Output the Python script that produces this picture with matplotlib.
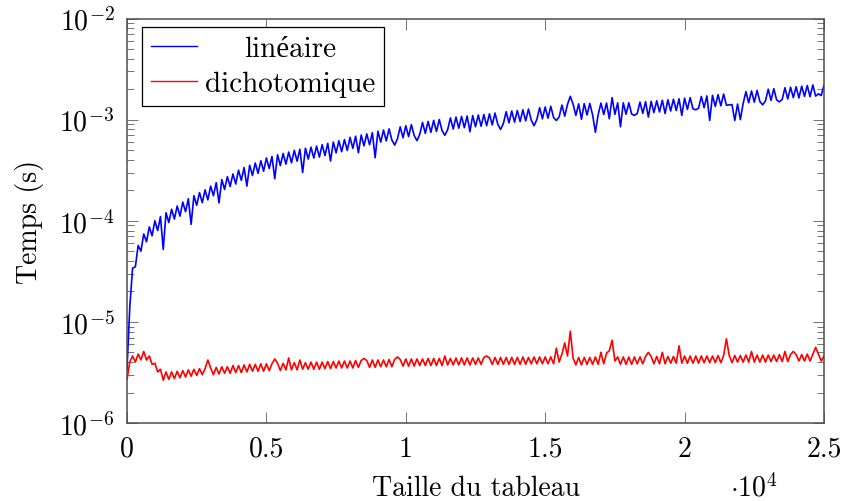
import numpy as np
import matplotlib
matplotlib.use("Agg")
from matplotlib import pyplot as plt
from matplotlib.ticker import FixedLocator, FuncFormatter, LogLocator, NullFormatter

plt.rcParams['font.family'] = ['cmr10', 'Liberation Serif']
plt.rcParams['mathtext.fontset'] = 'cm'
plt.rcParams['axes.formatter.use_mathtext'] = True

# taille du tableau (pas de 100)
sizes = np.arange(0, 25001, 100)

# temps en microsecondes
lineaire_us = [
    3.4, 14, 34, 35, 57, 50, 74, 62, 87, 71,
    100, 80, 110, 52, 120, 96, 130, 104, 140, 111,
    153, 123, 165, 92, 177, 142, 190, 151, 202, 161,
    220, 177, 238, 150, 255, 204, 273, 218, 290, 231,
    316, 251, 336, 220, 354, 280, 373, 294, 392, 309,
    418, 328, 433, 260, 449, 351, 463, 363, 478, 374,
    497, 388, 510, 300, 522, 407, 534, 417, 547, 426,
    565, 442, 583, 390, 600, 469, 618, 482, 635, 496,
    667, 520, 686, 470, 704, 550, 723, 564, 742, 420,
    768, 599, 789, 615, 809, 630, 560, 646, 849, 661,
    870, 679, 893, 696, 620, 713, 938, 731, 961, 748,
    983, 764, 1002, 779, 700, 793, 1040, 807, 1059, 822,
    1074, 832, 1086, 760, 1098, 851, 1111, 860, 1123, 870,
    1141, 886, 1161, 900, 800, 915, 1198, 929, 1217, 944,
    1232, 956, 1252, 972, 1272, 987, 870, 1002, 1312, 1018,
    1333, 1034, 1354, 1050, 980, 1065, 1393, 1081, 1414, 1700,
    1424, 1099, 1432, 1010, 1438, 1111, 1446, 1116, 750, 1122,
    1458, 1123, 1460, 1020, 1650, 1128, 1465, 850, 1467, 1131,
    1469, 1136, 1100, 1148, 1491, 1153, 1503, 1060, 1515, 1175,
    1537, 1190, 1555, 1150, 1572, 1217, 1590, 1230, 1607, 1100,
    1627, 1262, 1650, 1279, 1250, 1296, 1695, 1314, 1718, 980,
    1740, 1349, 1765, 1369, 1790, 1389, 1400, 1408, 980, 1427,
    1000, 1446, 1892, 1468, 1920, 1489, 1947, 1510, 1400, 1531,
    2000, 1549, 2023, 1566, 1500, 1583, 2068, 1601, 2091, 1650,
    2113, 1638, 2144, 1700, 2173, 1685, 2204, 1708, 1800, 1731,
    2200,
]

dichotomique_us = [
    2.7, 4.0, 4.6, 4.0, 4.8, 4.2, 5.1, 4.2, 4.6, 3.8,
    3.9, 3.2, 3.4, 2.65, 3.2, 2.7, 3.2, 2.75, 3.25, 2.8,
    3.3, 2.85, 3.35, 2.9, 3.4, 2.95, 3.45, 3.0, 3.45, 4.2,
    3.5, 3.0, 3.55, 3.05, 3.6, 3.1, 3.6, 3.1, 3.7, 3.15,
    3.7, 3.15, 3.75, 3.2, 3.8, 3.25, 3.8, 3.25, 3.85, 3.25,
    3.85, 3.3, 3.85, 4.3, 3.9, 3.3, 3.9, 3.35, 4.4, 3.35,
    3.95, 3.35, 4.2, 3.4, 3.95, 3.4, 4.0, 3.4, 4.0, 3.4,
    4.0, 3.45, 4.05, 3.45, 4.05, 3.5, 4.1, 3.5, 4.1, 3.5,
    4.1, 3.5, 4.15, 3.55, 4.15, 4.35, 4.15, 3.55, 4.2, 3.55,
    4.2, 3.6, 4.2, 3.6, 4.25, 3.6, 4.25, 4.5, 4.25, 3.65,
    4.3, 3.65, 4.3, 3.65, 4.3, 3.7, 4.3, 3.7, 4.35, 3.7,
    4.35, 3.7, 4.35, 3.7, 4.6, 3.75, 4.35, 3.75, 4.4, 3.75,
    4.4, 3.75, 4.4, 3.75, 4.4, 3.8, 4.4, 3.8, 4.45, 4.6,
    4.4, 3.8, 4.45, 3.8, 4.45, 3.8, 4.45, 3.8, 4.45, 3.8,
    4.45, 3.8, 4.5, 3.8, 4.45, 3.85, 4.5, 3.85, 4.5, 3.85,
    4.5, 3.85, 4.5, 3.85, 5.5, 4.0, 4.8, 6.2, 4.6, 8.1,
    4.4, 3.75, 4.45, 3.75, 4.45, 3.8, 4.45, 3.8, 4.5, 3.8,
    5.0, 3.85, 4.9, 5.2, 6.6, 4.1, 4.5, 3.8, 4.5, 3.8,
    4.5, 3.8, 4.5, 3.85, 4.5, 3.85, 4.55, 5.0, 4.55, 3.85,
    4.55, 3.85, 5.0, 3.85, 4.55, 3.9, 4.55, 3.9, 5.8, 3.9,
    4.6, 3.9, 4.6, 3.9, 4.6, 3.9, 4.6, 3.95, 4.6, 3.95,
    4.6, 3.95, 4.65, 3.95, 4.65, 6.8, 4.65, 3.95, 4.65, 4.0,
    4.65, 4.0, 4.7, 4.0, 5.1, 4.0, 4.7, 4.0, 4.7, 4.0,
    4.7, 4.05, 4.7, 4.05, 4.75, 4.05, 5.1, 4.05, 4.75, 5.1,
    4.75, 4.1, 4.75, 4.1, 4.8, 4.1, 4.8, 5.6, 4.8, 4.1,
    4.6,
]

labels = ['linéaire', 'dichotomique']
x_ticks = [0, 5000, 10000, 15000, 20000, 25000]

fig = plt.figure(figsize=(8.44, 5.02), dpi=100)
ax = fig.add_axes([127 / 844, 1 - 424 / 502, 697 / 844, 404.5 / 502])

ax.plot(sizes, np.array(lineaire_us) * 1e-6, color=(0, 0, 1), lw=1.2, label=labels[0])
ax.plot(sizes, np.array(dichotomique_us) * 1e-6, color=(1, 0, 0), lw=1.2, label=labels[1])

ax.set_yscale('log')
ax.set_xlim(0, 25000)
ax.set_ylim(1e-6, 1e-2)

ax.xaxis.set_major_locator(FixedLocator(x_ticks))
ax.xaxis.set_major_formatter(FuncFormatter(lambda v, p: '%g' % (v / 1e4)))
ax.yaxis.set_major_locator(LogLocator(base=10, numticks=10))
ax.yaxis.set_major_formatter(FuncFormatter(lambda v, p: r'$10^{%d}$' % round(np.log10(v))))
ax.yaxis.set_minor_locator(LogLocator(base=10, subs=np.arange(2, 10), numticks=20))
ax.yaxis.set_minor_formatter(NullFormatter())

ax.tick_params(which='both', direction='in', top=True, right=True, color='0.45', width=0.7)
ax.tick_params(which='major', length=8, labelsize=20, labelcolor='black')
ax.tick_params(which='minor', length=5)
ax.tick_params(axis='x', which='major', pad=9)
ax.tick_params(axis='y', which='major', pad=9)
for s in ax.spines.values():
    s.set_color('0.3')
    s.set_linewidth(1.1)

ax.set_xlabel('Taille du tableau', fontsize=20, labelpad=9)
ax.set_ylabel('Temps (s)', fontsize=20, labelpad=11)
ax.text(0.865, -0.18, r'$\cdot 10^{4}$', transform=ax.transAxes, fontsize=20,
        ha='left', va='baseline')

leg = ax.legend(loc='upper left', bbox_to_anchor=(15 / 697, 1 - 8.5 / 404.5),
                borderaxespad=0, fontsize=21, fancybox=False, framealpha=1,
                edgecolor='black', handlelength=1.6, handletextpad=0.25,
                borderpad=0.3, labelspacing=0.3)
leg.get_frame().set_linewidth(0.9)
for h in leg.get_lines():
    h.set_linewidth(1.0)

# centrer "linéaire" dans la colonne, comme pgfplots
fig.canvas.draw()
t0, t1 = leg.get_texts()
w0 = t0.get_window_extent().width
w1 = t1.get_window_extent().width
t0.set_position(((w1 - w0) / 2, 0))

fig.savefig('out.png', dpi=100)
